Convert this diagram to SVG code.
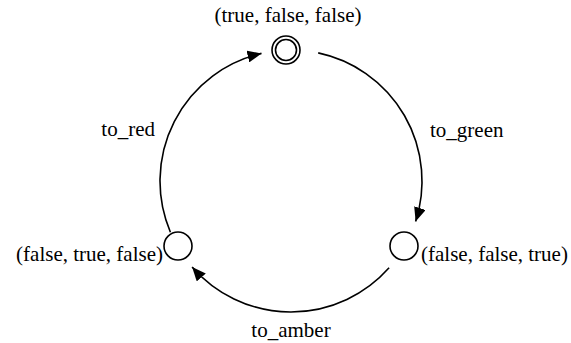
<svg xmlns="http://www.w3.org/2000/svg" width="571" height="343" viewBox="0 0 571 343">
<style>
text{font-family:"Liberation Serif","Times New Roman",serif;font-size:21px;fill:#000}
.n{fill:#fff;stroke:#000;stroke-width:1.6}
.e{fill:none;stroke:#000;stroke-width:1.6}
</style>
<defs>
<marker id="ah" viewBox="0 0 14 12" refX="14" refY="6" markerWidth="14" markerHeight="12" markerUnits="userSpaceOnUse" orient="auto">
<path d="M0,0 L14,6 L0,12 Z" fill="#000"/>
</marker>
</defs>
<rect width="571" height="343" fill="#fff"/>
<g id="edges">
<path id="to_red" class="e" d="M170.4,232.2 A131,131 0 0 1 261.5,53.4" marker-end="url(#ah)"/>
<path id="to_green" class="e" d="M318.2,52.9 A131,131 0 0 1 415.6,221.5" marker-end="url(#ah)"/>
<path id="to_amber" class="e" d="M389.1,267.8 A131,131 0 0 1 192.1,266.9" marker-end="url(#ah)"/>
<text x="155" y="136" text-anchor="end">to_red</text>
<text x="430" y="137">to_green</text>
<text x="291" y="337" text-anchor="middle">to_amber</text>
</g>
<g id="s_tff">
<circle class="n" cx="286" cy="50" r="14"/>
<circle class="n" cx="286" cy="50" r="10.5"/>
<text x="288" y="22" text-anchor="middle">(true, false, false)</text>
</g>
<g id="s_fft">
<circle class="n" cx="404" cy="246" r="14"/>
<text x="421" y="261">(false, false, true)</text>
</g>
<g id="s_ftf">
<circle class="n" cx="178" cy="246" r="14"/>
<text x="163" y="261" text-anchor="end">(false, true, false)</text>
</g>
</svg>
